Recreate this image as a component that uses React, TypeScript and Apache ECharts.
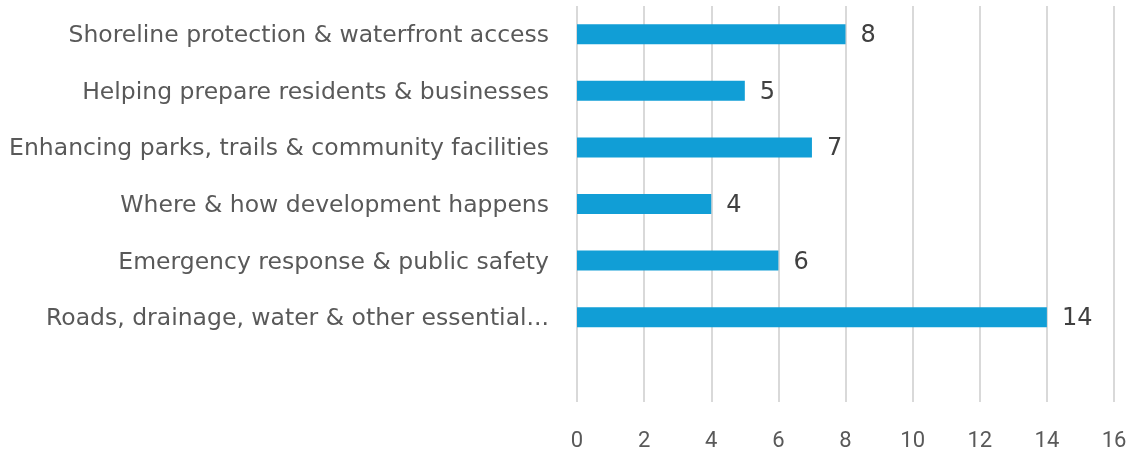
import React, { useEffect, useRef } from "react";
import * as echarts from "echarts";

const categories = [
  "Shoreline protection & waterfront access",
  "Helping prepare residents & businesses",
  "Enhancing parks, trails & community facilities",
  "Where & how development happens",
  "Emergency response & public safety",
  "Roads, drainage, water & other essential...",
  "",
];
const values: (number | null)[] = [8, 5, 7, 4, 6, 14, null];
const xTicks = { min: 0, max: 16, interval: 2 };

const FONT = "'DejaVu Sans', 'Noto Sans', sans-serif";
const NUM_FONT = "Roboto, 'DejaVu Sans', sans-serif";

export default function App() {
  const ref = useRef<HTMLDivElement>(null);
  useEffect(() => {
    const chart = echarts.init(ref.current!, null, { renderer: "svg" });
    chart.setOption({
      animation: false,
      textStyle: { fontFamily: FONT },
      grid: {
        left: 577,
        right: 13,
        top: 6,
        bottom: 52,
        containLabel: false,
        outerBoundsMode: "none",
      },
      xAxis: {
        type: "value",
        min: xTicks.min,
        max: xTicks.max,
        interval: xTicks.interval,
        axisLine: { show: false },
        axisTick: { show: false },
        splitLine: { show: true, lineStyle: { color: "#d9d9d9", width: 2 } },
        axisLabel: { color: "#595959", fontSize: 22, margin: 26, fontFamily: NUM_FONT },
      },
      yAxis: {
        type: "category",
        data: categories,
        inverse: true,
        axisLine: { show: false },
        axisTick: { show: false },
        splitLine: { show: false },
        axisLabel: { color: "#595959", fontSize: 23.5, margin: 28, fontFamily: FONT },
      },
      series: [
        {
          type: "bar",
          data: values,
          barWidth: 20,
          itemStyle: { color: "#119ed6" },
          label: {
            show: true,
            position: "right",
            distance: 15,
            color: "#404040",
            fontSize: 24,
            fontFamily: FONT,
          },
        },
      ],
    });
    return () => chart.dispose();
  }, []);
  return (
    <div
      ref={ref}
      style={{ position: "fixed", left: 0, top: 0, width: 1127, height: 454 }}
    />
  );
}
